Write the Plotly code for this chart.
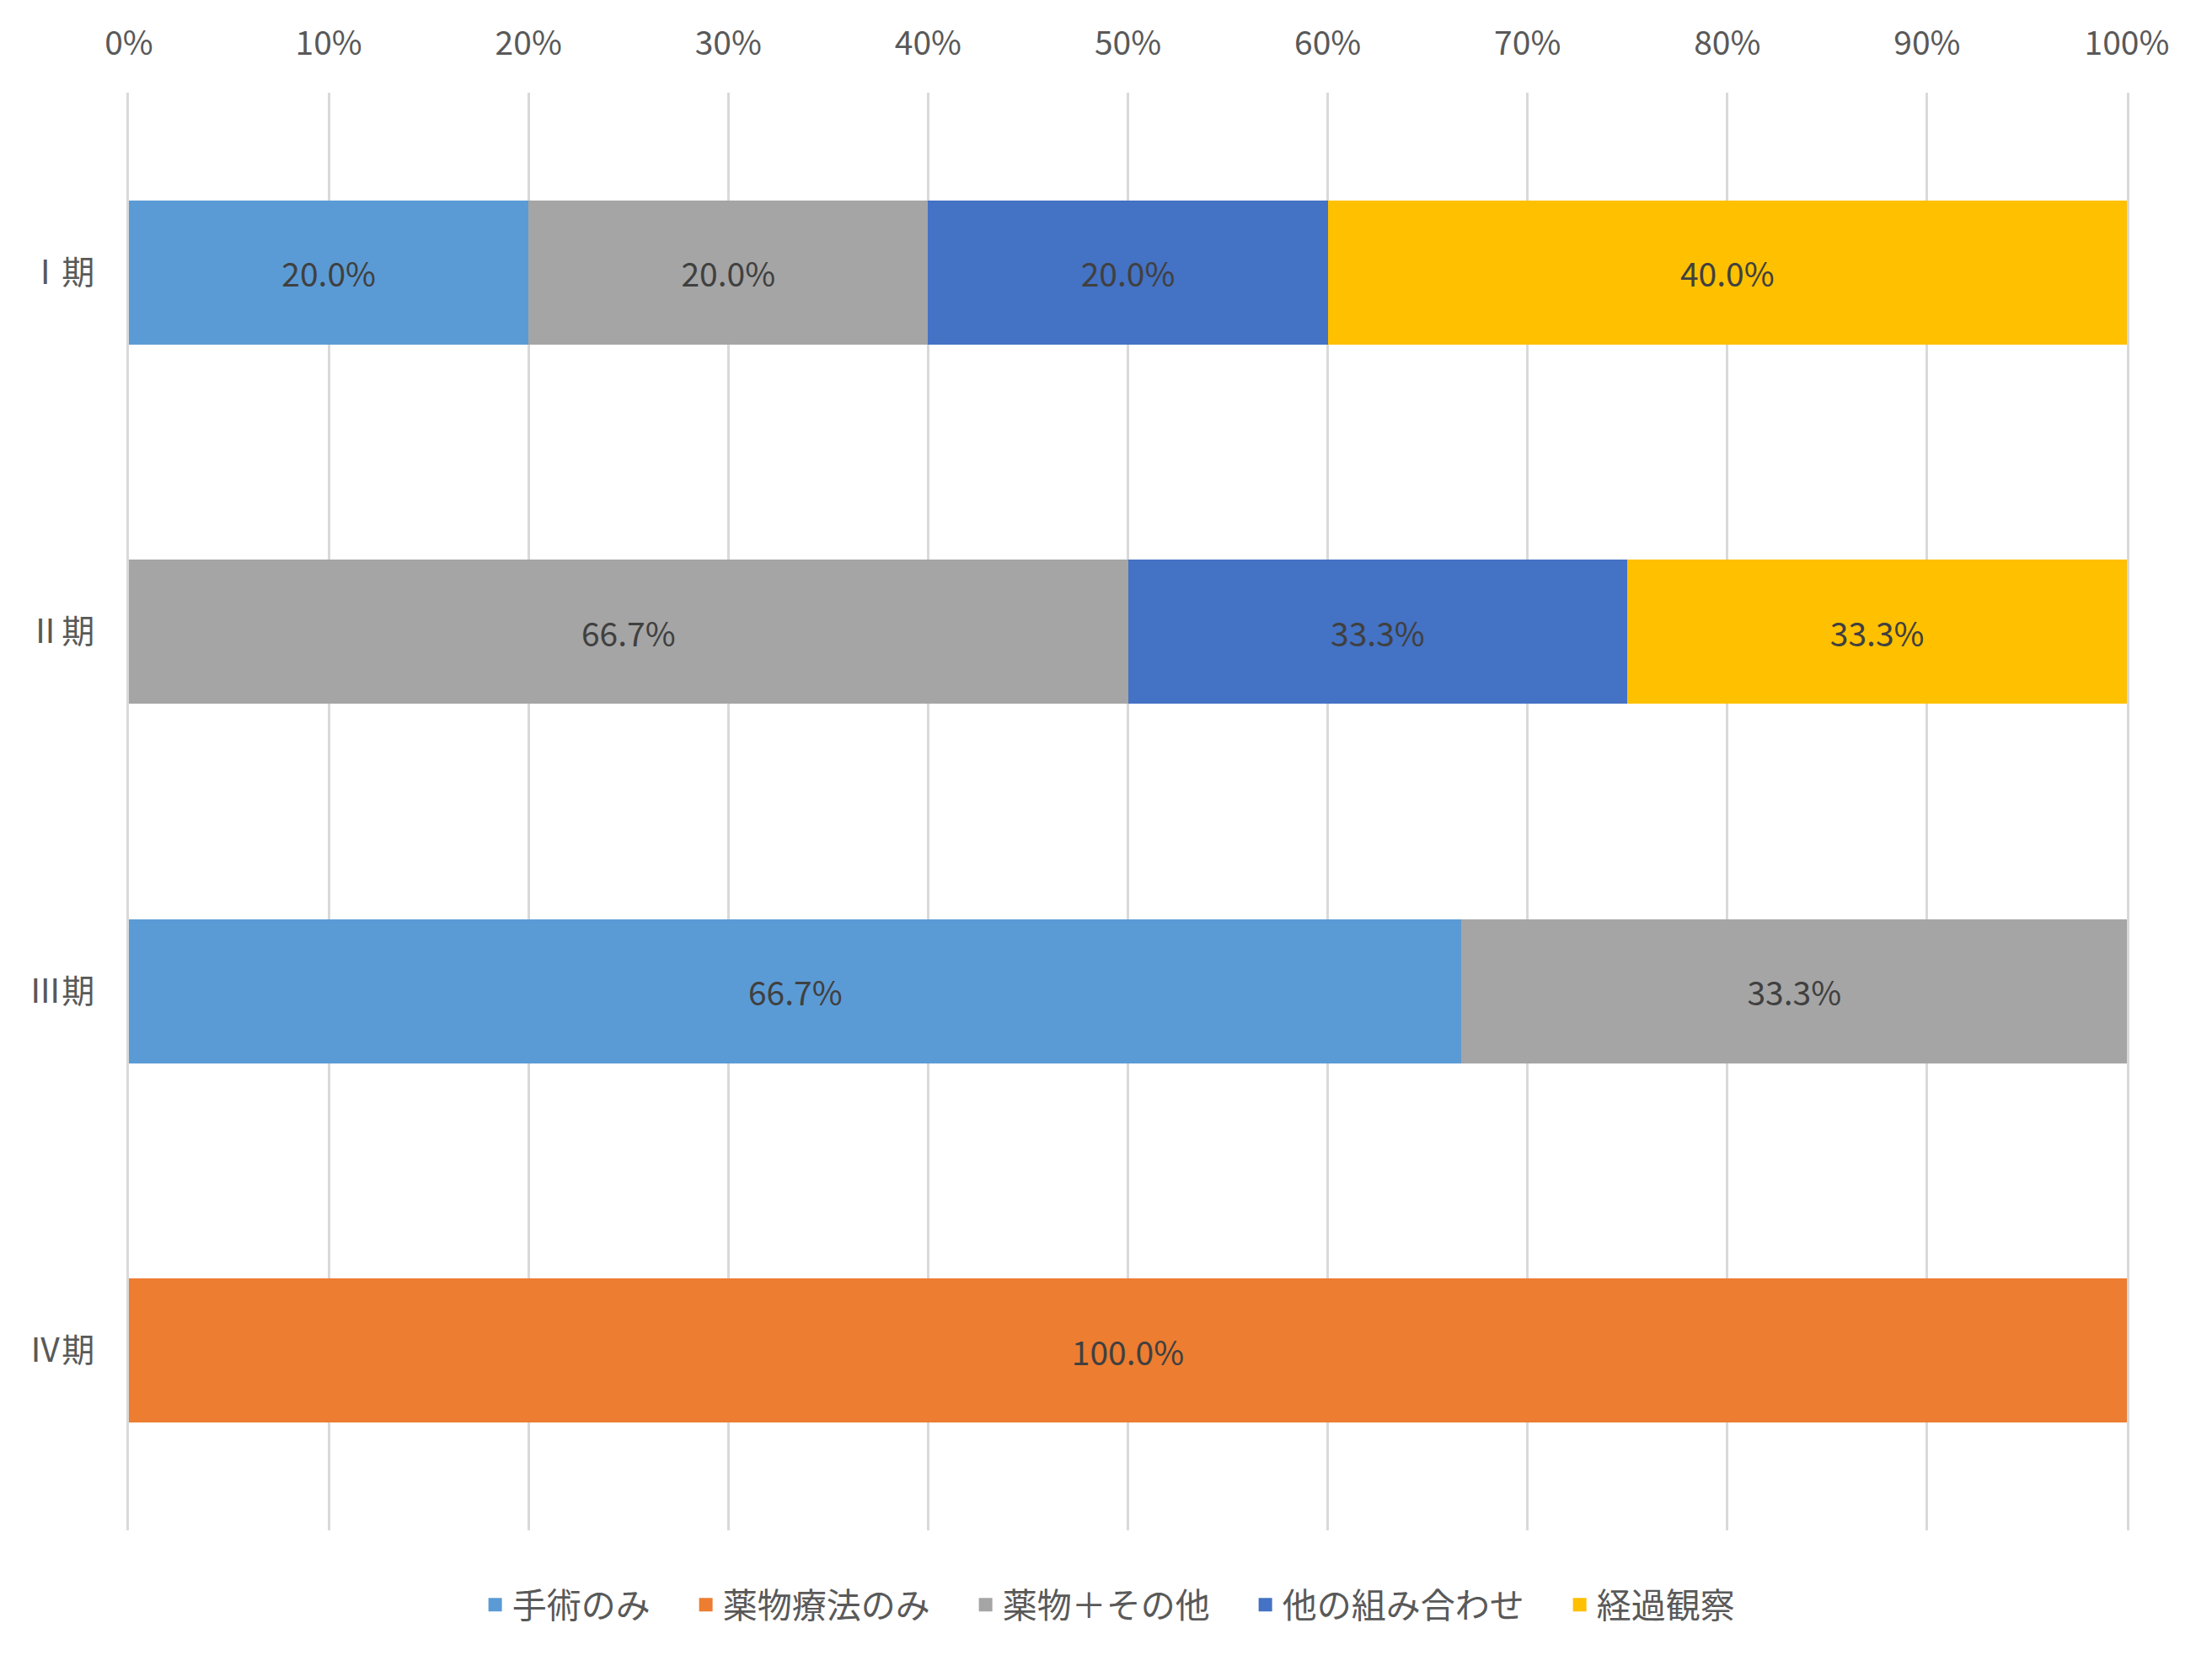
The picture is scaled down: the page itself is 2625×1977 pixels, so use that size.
import plotly.graph_objects as go

# stages (y categories)
stages = ["Ⅰ期", "Ⅱ期", "Ⅲ期", "Ⅳ期"]

# treatment series
series_names = ["手術のみ", "薬物療法のみ", "薬物＋その他", "他の組み合わせ", "経過観察"]
series_colors = ["#5B9BD5", "#ED7D31", "#A5A5A5", "#4472C4", "#FFC000"]

# bar widths (% of each stage) as drawn
surgery_only = [20.0, 0, 66.7, 0]
drug_only = [0, 0, 0, 100.0]
drug_plus = [20.0, 50.0, 33.3, 0]
other_combo = [20.0, 25.0, 0, 0]
observation = [40.0, 25.0, 0, 0]

# data labels as printed on the bars
surgery_only_lbl = ["20.0%", "", "66.7%", ""]
drug_only_lbl = ["", "", "", "100.0%"]
drug_plus_lbl = ["20.0%", "66.7%", "33.3%", ""]
other_combo_lbl = ["20.0%", "33.3%", "", ""]
observation_lbl = ["40.0%", "33.3%", "", ""]

values = [surgery_only, drug_only, drug_plus, other_combo, observation]
labels = [surgery_only_lbl, drug_only_lbl, drug_plus_lbl, other_combo_lbl, observation_lbl]

FONT = "Noto Sans CJK JP"
GRID = "#D9D9D9"

fig = go.Figure()
for name, color, vals, lbls in zip(series_names, series_colors, values, labels):
    fig.add_trace(go.Bar(
        y=stages, x=vals, orientation="h", name=name,
        marker=dict(color=color, line=dict(width=0)),
        text=lbls, textposition="inside", insidetextanchor="middle",
        textfont=dict(family=FONT, size=39, color="#404040"),
        constraintext="none", showlegend=False,
    ))
    # legend entry (square), padded with an ideographic space for wider gaps
    fig.add_trace(go.Scatter(
        x=[None], y=[None], mode="markers", name=name + "\u3000",
        marker=dict(symbol="square", size=16, color=color),
    ))

fig.update_layout(
    width=2625, height=1977,
    barmode="stack", bargap=0.6,
    plot_bgcolor="white", paper_bgcolor="white",
    margin=dict(l=145, r=109, t=102, b=169),
    font=dict(family=FONT, size=38, color="#595959"),
    legend=dict(
        orientation="h", x=0.499, xanchor="center", y=-0.052, yanchor="middle",
        font=dict(family=FONT, size=41, color="#595959"),
        itemwidth=30, traceorder="normal",
    ),
)
fig.update_xaxes(
    side="top", range=[0, 100], dtick=10, ticksuffix="%",
    showgrid=True, gridcolor=GRID, gridwidth=3,
    zeroline=False, showline=False, ticks="",
    ticklabelstandoff=36,
    tickfont=dict(family=FONT, size=39, color="#595959"),
)
fig.update_yaxes(
    type="category", categoryorder="array", categoryarray=stages,
    range=[3.5, -0.5], showgrid=False, zeroline=False,
    showline=True, mirror=True, linecolor=GRID, linewidth=3,
    layer="below traces",
    ticks="", ticklabelstandoff=30,
    tickfont=dict(family=FONT, size=39, color="#595959"),
)

fig.write_html("out.html")
